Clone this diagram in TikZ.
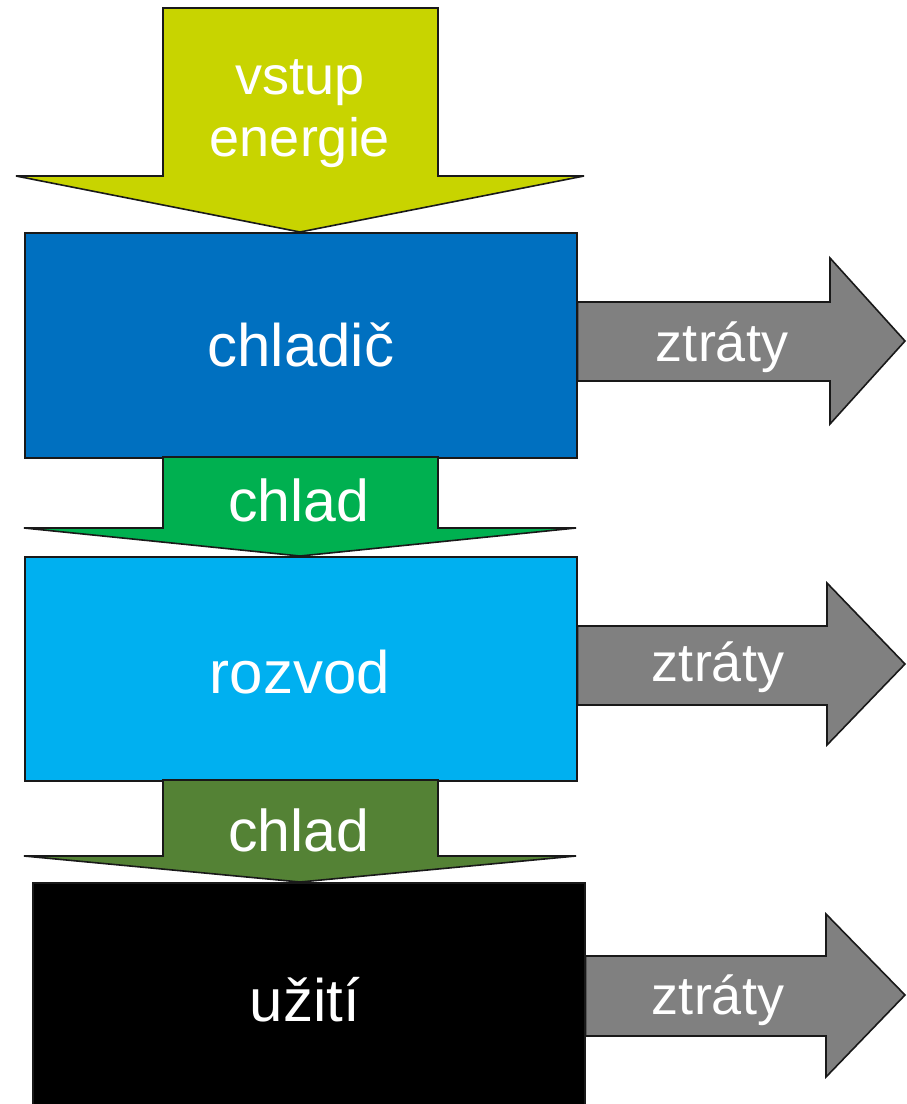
\documentclass[tikz,border=0pt]{standalone}
\usepackage{fontspec}
\setmainfont{Liberation Sans}
\definecolor{cYel}{RGB}{200,212,0}
\definecolor{cBlue}{RGB}{0,112,192}
\definecolor{cGreen}{RGB}{0,176,80}
\definecolor{cCyan}{RGB}{0,176,240}
\definecolor{cDkGreen}{RGB}{84,130,53}
\definecolor{cGray}{RGB}{128,128,128}
\begin{document}
\begin{tikzpicture}[x=1pt,y=-1pt,
  outl/.style={draw=black!90,line width=1.6pt,line join=miter},
  blockbox/.style={outl,rectangle,minimum width=552pt,anchor=north west,inner sep=0pt},
  boxtext/.style={text=white,font=\fontsize{60}{66}\selectfont},
  arrtext/.style={text=white,font=\fontsize{54}{62}\selectfont,align=center}]
\clip (0,0) rectangle (906,1104);
\fill[white] (0,0) rectangle (906,1104);
% top input arrow
\filldraw[outl,fill=cYel] (163,8) -- (438,8) -- (438,176) -- (584,176) -- (300,232) -- (16,176) -- (163,176) -- cycle;
\node[arrtext] (vstup) at (300,114) {vstup\\energie};
% boxes
\node[blockbox,fill=cBlue,minimum height=225pt] (chladic) at (24,232) {};
\node[boxtext] (tchladic) at (chladic.center) {chladič};
\node[blockbox,fill=cCyan,minimum height=224pt] (rozvod) at (24,556) {};
\node[boxtext] (trozvod) at (300,672) {rozvod};
\node[blockbox,fill=black,minimum height=240pt] (uziti) at (32,882) {};
\node[boxtext] (tuziti) at (305,1000) {užití};
% chlad arrows
\filldraw[outl,fill=cGreen] (163,457) -- (438,457) -- (438,528) -- (576,528) -- (300,556) -- (24,528) -- (163,528) -- cycle;
\node[boxtext,font=\fontsize{59}{66}\selectfont] (chlad1) at (299,500) {chlad};
\filldraw[outl,fill=cDkGreen] (163,780) -- (438,780) -- (438,856) -- (576,856) -- (300,882) -- (24,856) -- (163,856) -- cycle;
\node[boxtext,font=\fontsize{59}{66}\selectfont] (chlad2) at (299,830) {chlad};
% loss arrows
\filldraw[outl,fill=cGray] (chladic.east |- 0,302) -- (830,302) -- (830,258) -- (905,341) -- (830,424) -- (830,381) -- (chladic.east |- 0,381) -- cycle;
\node[arrtext] (z1) at (722,347) {ztráty};
\filldraw[outl,fill=cGray] (rozvod.east |- 0,626) -- (827,626) -- (827,583) -- (905,664) -- (827,745) -- (827,705) -- (rozvod.east |- 0,705) -- cycle;
\node[arrtext] (z2) at (718,667) {ztráty};
\filldraw[outl,fill=cGray] (uziti.east |- 0,956) -- (826,956) -- (826,914) -- (905,995) -- (826,1077) -- (826,1036) -- (uziti.east |- 0,1036) -- cycle;
\node[arrtext] (z3) at (718,1000) {ztráty};
% redraw box edges over loss arrows
\draw[outl] (chladic.north east) -- (chladic.south east);
\draw[outl] (rozvod.north east) -- (rozvod.south east);
\end{tikzpicture}
\end{document}
